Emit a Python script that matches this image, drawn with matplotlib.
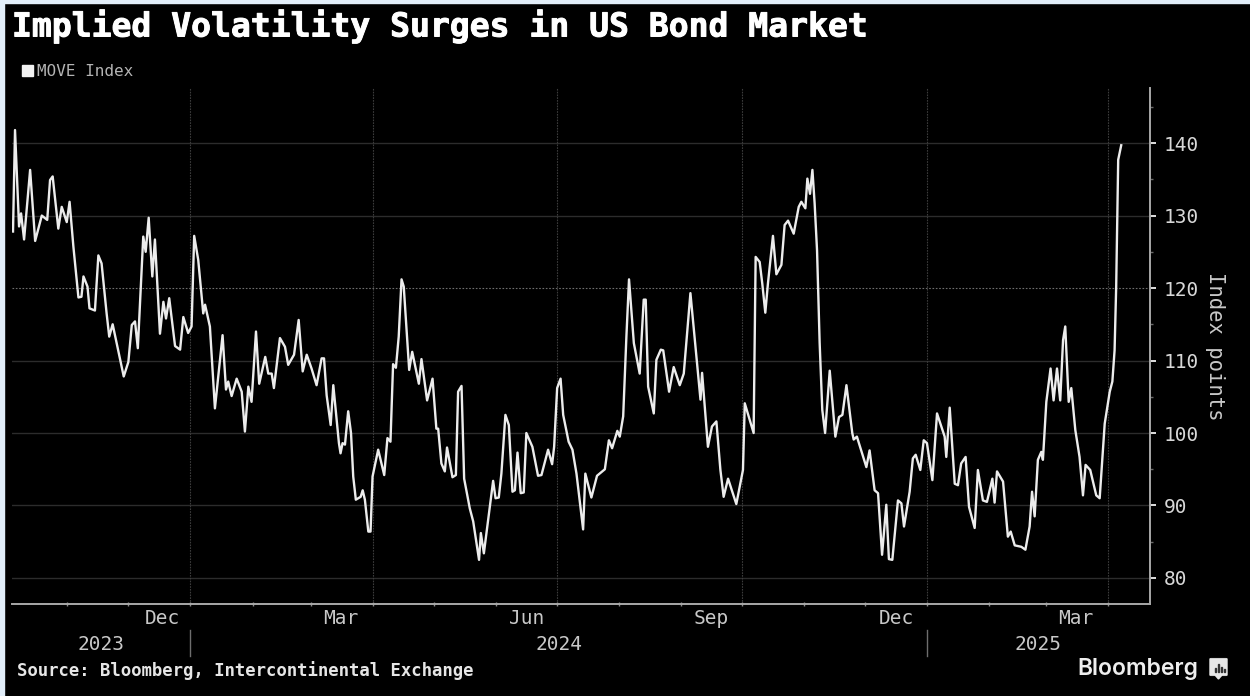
import pandas as pd
import matplotlib.pyplot as plt
import matplotlib.dates as mdates
import matplotlib.patheffects as pe
from matplotlib.patches import Rectangle, FancyBboxPatch, Polygon
from matplotlib.transforms import blended_transform_factory

W, H = 1250, 696
inicio = pd.Timestamp("2023-10-05")

# dias desde o inicio da serie
dias = [0, 1, 3, 4, 5.5, 8.5, 11, 14.3, 17, 18.4, 19.7, 22.5, 24.2, 26.7, 28.1, 30, 32.5, 34, 35, 37,
        38, 40.7, 42.4, 44, 46.5, 47.8, 49.5, 55, 57.3, 59, 60.6, 62, 64.7, 65.9, 67.4, 69.2, 70.5,
        73, 74.7, 76, 77.6, 80.5, 83, 84.6, 87, 88.7, 90, 92, 94.5, 95.4, 97.8, 100.3, 104.1, 105.8,
        106.9, 108.6, 111.1, 113.6, 115.2, 116.9, 118.5, 120.7, 122.3, 125.3, 126.8, 128.5, 129.6,
        132.6, 135.1, 136.7, 139.6, 141.9, 143.9, 145.9, 148.3, 150.8, 153.3, 154.5, 155.8, 157.8,
        159.1, 161.9, 162.7, 163.7, 164.9, 166.5, 167.9, 169, 170.3, 172.7, 173.7, 174.8, 176.5,
        177.6, 178.6, 181.4, 184.4, 186, 187.5, 188.8, 190.2, 191.6, 193, 194.1, 196.8, 198.3, 201.6,
        202.9, 205.7, 208.4, 210.3, 211.2, 212.8, 214.5, 215.6, 218.3, 220, 221.1, 222.8, 224.1,
        226.9, 228.6, 231.5, 232.4, 233.9, 238.5, 239.7, 241.3, 242.6, 244.6, 246.3, 248.1, 249.3,
        250.6, 252.2, 253.7, 255, 258, 260.8, 262.5, 265.8, 267.8, 268.8, 270.3, 272, 273.3, 276,
        277.9, 279.9, 283.2, 284.3, 287.3, 290.1, 294, 296, 297.6, 300.2, 301.4, 303.1, 304.7, 306,
        308.4, 311.3, 313.3, 314.3, 315.5, 318.3, 319.6, 321.8, 323, 325.9, 328.2, 331.2, 333.2,
        336.5, 339, 341.5, 342.3, 345.2, 347.2, 349.4, 351.4, 353, 355.2, 359.3, 362.6, 363.5, 367.9,
        368.9, 370.9, 372.2, 373.7, 375, 377.5, 379.2, 381.7, 383.3, 385, 387.8, 390.3, 391.6, 393.6,
        394.6, 395.9, 397.1, 398.2, 399.4, 400.7, 402, 403.4, 405.7, 408.5, 410.3, 412, 414, 416.9,
        417.6, 419.2, 423.9, 425.5, 428, 429.7, 431.7, 433.8, 435.1, 436.8, 439.6, 441.3, 442.6,
        445.4, 447, 448.4, 450.7, 452.4, 454, 456.7, 459, 462.8, 463.6, 465.3, 467.8, 469.4, 471,
        473.2, 474.9, 477.7, 479.3, 481.8, 483.8, 486.5, 487.6, 488.8, 491.8, 494.2, 495.6, 497.6,
        500.9, 502.9, 505, 506.2, 507.5, 509.1, 510.8, 511.6, 513.3, 515.4, 516.9, 518.6, 520.2,
        521.6, 522.7, 524.4, 525.7, 527.7, 529.8, 531.5, 532.8, 535.1, 538.1, 539.8, 542.3, 544.8,
        546.1, 547.2, 548, 549, 550.5]

move = [127.8, 141.8, 128.5, 130.3, 126.7, 136.3, 126.5, 130, 129.4, 134.9, 135.4, 128.2, 131.2, 129.1,
        131.9, 125.7, 118.7, 118.8, 121.6, 120.2, 117.2, 116.9, 124.5, 123.4, 116.5, 113.3, 115, 107.8,
        109.8, 114.9, 115.4, 111.7, 127.1, 125, 129.7, 121.6, 126.7, 113.7, 118.1, 115.8, 118.6, 112,
        111.5, 116, 113.8, 114.7, 127.2, 123.9, 116.5, 117.7, 114.7, 103.4, 113.5, 106, 107.1, 105.1,
        107.5, 105.7, 100.2, 106.4, 104.3, 114, 106.8, 110.5, 108.2, 108.2, 106.2, 113.1, 111.9, 109.4,
        110.8, 115.6, 108.5, 110.8, 108.9, 106.6, 110.3, 110.3, 105.2, 101.1, 106.6, 98.6, 97.2, 98.6,
        98.4, 103, 100, 94, 90.8, 91.2, 92.1, 90.8, 86.4, 86.4, 94, 97.7, 94.2, 99.3, 98.8, 109.5, 109,
        113.3, 121.2, 120.2, 108.7, 111.2, 106.8, 110.2, 104.5, 107.5, 100.6, 100.6, 95.8, 94.7, 98,
        93.9, 94.2, 105.7, 106.5, 93.7, 89.6, 87.8, 82.5, 86.2, 83.4, 93.4, 91, 91.1, 94.4, 102.5, 101.1,
        91.9, 92.1, 97.3, 91.7, 91.8, 100, 98.1, 94.1, 94.2, 97.7, 95.7, 98.1, 106.2, 107.5, 102.5, 98.8,
        97.7, 94.4, 86.7, 94.4, 91.1, 94.1, 95, 99, 97.9, 100.3, 99.5, 102.3, 113.3, 121.2, 112.4, 108.2,
        118.4, 118.4, 106.4, 102.7, 110.1, 111.5, 111.4, 105.7, 109.1, 106.6, 108.2, 119.3, 111.9, 104.6,
        108.3, 98.1, 100.9, 101.6, 94.9, 91.2, 93.7, 90.2, 94.9, 104.1, 100, 124.3, 123.6, 120.6, 116.6,
        120.6, 127.2, 121.9, 123.2, 128.7, 129.3, 127.5, 131.2, 131.9, 131, 135.1, 133, 136.3, 131.7,
        125.2, 112.4, 103.2, 100, 108.6, 99.5, 102.2, 102.5, 106.6, 100, 99.1, 99.5, 95.3, 97.6, 92.1,
        91.7, 83.2, 90.1, 82.6, 82.5, 90.7, 90.3, 87.1, 91.9, 96.5, 97, 94.9, 99, 98.6, 93.5, 102.7, 99.5,
        96.7, 103.5, 93, 92.8, 95.8, 96.7, 89.8, 86.9, 94.9, 90.7, 90.5, 93.7, 90.4, 94.7, 93.3, 85.7,
        86.4, 84.5, 84.3, 83.9, 87.1, 91.9, 88.5, 96.3, 97.4, 96.3, 104.3, 108.9, 104.5, 108.9, 104.5,
        112.8, 114.7, 104.3, 106.2, 100.4, 96.7, 91.4, 95.6, 94.9, 91.4, 91, 101.3, 105.7, 107.1, 111.4,
        120.2, 137.7, 139.7]

trimestres = ["2024-01-01", "2024-04-01", "2024-07-01", "2024-10-01", "2025-01-01", "2025-04-01"]
meses_lbl = ["Dec", "Mar", "Jun", "Sep", "Dec", "Mar"]
meses_pos = ["2023-12-18", "2024-03-16", "2024-06-16", "2024-09-16", "2024-12-17", "2025-03-16"]
anos = ["2023", "2024", "2025"]
y_ticks = [80, 90, 100, 110, 120, 130, 140]

datas = [inicio + pd.Timedelta(days=d) for d in dias]

fig = plt.figure(figsize=(W / 100, H / 100), dpi=100, facecolor="black")


def fx(x):
    return x / W


def fy(y):
    return 1 - y / H


# faixa clara nas bordas
fig.add_artist(Rectangle((0, 0), fx(4), 1, transform=fig.transFigure, color="#e2eef9", zorder=5))
fig.add_artist(Rectangle((0, fy(3)), 1, fy(0) - fy(3), transform=fig.transFigure, color="#e2eef9", zorder=5))

ax = fig.add_axes([fx(12), fy(604), fx(1150 - 12), fy(88) - fy(604)], facecolor="black")
ax.plot(datas, move, color="#ececec", linewidth=1.7, solid_joinstyle="round", zorder=3)

x_ini = inicio - pd.Timedelta(days=0.5)
x_fim = inicio + pd.Timedelta(days=(1150.5 - 13) / 2.014)
ax.set_xlim(x_ini, x_fim)
ax.set_ylim(76.41, 147.6)

# eixos
for lado in ["left", "top"]:
    ax.spines[lado].set_visible(False)
for lado in ["right", "bottom"]:
    ax.spines[lado].set_color("#a8a8a8")
    ax.spines[lado].set_linewidth(1.4)

ax.yaxis.tick_right()
ax.set_yticks(y_ticks)
ax.set_yticks([y + 5 for y in y_ticks], minor=True)
ax.tick_params(axis="y", which="major", direction="out", length=4, width=1.4, color="#e0e0e0",
               labelcolor="#d8d8d8", labelsize=14, pad=6)
ax.tick_params(axis="y", which="minor", direction="out", length=2, width=1, color="#6a6a6a")
for lbl in ax.get_yticklabels():
    lbl.set_family("DejaVu Sans Mono")

ax.xaxis.set_major_locator(mdates.MonthLocator(bymonth=[1, 4, 7, 10]))
ax.xaxis.set_minor_locator(mdates.MonthLocator())
ax.xaxis.set_major_formatter(plt.NullFormatter())
ax.tick_params(axis="x", which="both", direction="inout", length=3, width=1, color="#8a8a8a")

# grade
for y in y_ticks:
    if y == 120:
        ax.axhline(y, color="#6e6e6e", linewidth=0.8, linestyle=(0, (1.5, 1.5)), zorder=1)
    else:
        ax.axhline(y, color="#2c2c2c", linewidth=1, zorder=1)
for t in trimestres:
    ax.axvline(pd.Timestamp(t), color="#3c3c3c", linewidth=0.8, linestyle=(0, (1.5, 1)), zorder=1)

# rotulos dos meses e anos embaixo
mistura = blended_transform_factory(ax.transData, fig.transFigure)
for nome, pos in zip(meses_lbl, meses_pos):
    ax.text(pd.Timestamp(pos), fy(618), nome, transform=mistura,
            ha="center", va="center", color="#c8c8c8", fontsize=14, family="DejaVu Sans Mono")

cortes = [x_ini, pd.Timestamp("2024-01-01"), pd.Timestamp("2025-01-01"), x_fim]
for i, ano in enumerate(anos):
    meio = cortes[i] + (cortes[i + 1] - cortes[i]) / 2
    ax.text(meio, fy(645), ano, transform=mistura, ha="center", va="center",
            color="#c8c8c8", fontsize=14, family="DejaVu Sans Mono")
for c in cortes[1:3]:
    ax.plot([c, c], [fy(630), fy(656)], transform=mistura, color="#6e6e6e", linewidth=1, clip_on=False)

# titulo, legenda e textos
titulo = fig.text(fx(12), fy(26), "Implied Volatility Surges in US Bond Market", color="white", fontsize=23.8,
                  fontweight="bold", family="DejaVu Sans Mono", ha="left", va="center")
titulo.set_path_effects([pe.withStroke(linewidth=0.7, foreground="white")])
fig.add_artist(Rectangle((fx(22), fy(76)), fx(11), fy(65) - fy(76), transform=fig.transFigure, color="#f2f2f2"))
fig.text(fx(37), fy(71), "MOVE Index", color="#b4b4b4", fontsize=11.5, family="DejaVu Sans Mono",
         ha="left", va="center")
fig.text(fx(1215), fy(346), "Index points", color="#c8c8c8", fontsize=14.8, rotation=270,
         family="DejaVu Sans Mono", ha="center", va="center")
fig.text(fx(17), fy(671), "Source: Bloomberg, Intercontinental Exchange", color="#e6e6e6", fontsize=12.4,
         fontweight="bold", family="DejaVu Sans Mono", ha="left", va="center")
fig.text(fx(1077), fy(669), "Bloomberg", color="#eeeeee", fontsize=16.5, fontweight="semibold",
         family="Inter", ha="left", va="center")

# icone ao lado do nome
fig.add_artist(FancyBboxPatch((fx(1211), fy(675)), fx(15), fy(659) - fy(675),
                              boxstyle="round,pad=0.001", transform=fig.transFigure,
                              facecolor="#e8e8e8", edgecolor="#e8e8e8", linewidth=0.5))
fig.add_artist(Polygon([(fx(1215), fy(675)), (fx(1222), fy(675)), (fx(1218.5), fy(679))],
                       transform=fig.transFigure, color="#e8e8e8"))
for xb, hb in zip([1214.5, 1217.5, 1220.5, 1223.5], [4, 8, 5, 3]):
    fig.add_artist(Rectangle((fx(xb), fy(672)), fx(1.4), fy(672 - hb) - fy(672),
                             transform=fig.transFigure, color="#333333"))

fig.savefig("out.png", dpi=100, facecolor="black")
